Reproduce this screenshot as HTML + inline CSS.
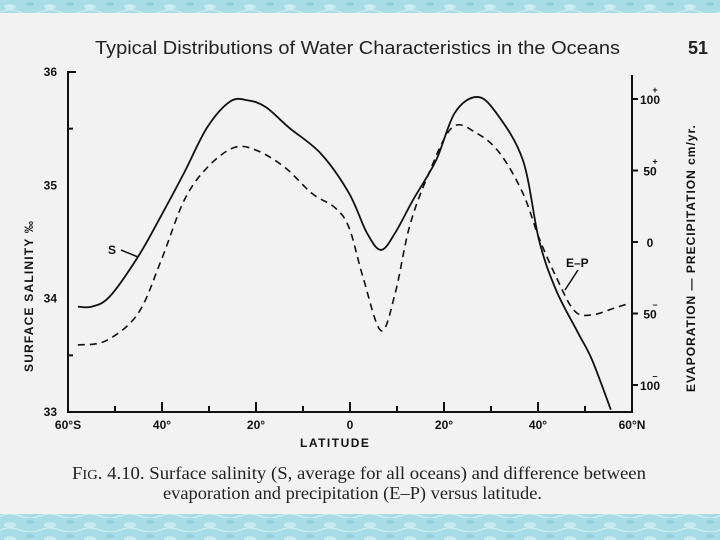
<!DOCTYPE html>
<html><head><meta charset="utf-8"><style>
html,body{margin:0;padding:0;width:720px;height:540px;overflow:hidden;background:#f3f2f2;}
svg{display:block;}
</style></head><body>
<svg id="c" width="720" height="540" xmlns="http://www.w3.org/2000/svg" font-family="Liberation Sans, sans-serif">
<defs>
<pattern id="wv" width="40" height="14" patternUnits="userSpaceOnUse">
<rect width="40" height="14" fill="#a9dde6"/>
<ellipse cx="10" cy="7" rx="6" ry="3" fill="#c6ebf0"/>
<ellipse cx="30" cy="4" rx="4" ry="2" fill="#8fd0dc"/>
<path d="M0 12 Q10 8 20 12 T40 12" stroke="#d6f2f5" fill="none"/>
</pattern>
</defs>
<rect x="0" y="0" width="720" height="13" fill="url(#wv)"/>
<rect x="0" y="514" width="720" height="26" fill="url(#wv)"/>
<text x="95" y="54" font-size="18" textLength="525" lengthAdjust="spacingAndGlyphs" fill="#222">Typical Distributions of Water Characteristics in the Oceans</text>
<text x="688" y="54" font-size="18" font-weight="bold" fill="#222">51</text>
<g id="axes" stroke="#111" stroke-width="2" fill="none"></g>
<g id="labels" fill="#111" font-weight="bold" font-size="12"></g>
<g id="series" fill="none" stroke="#111"></g>
<text x="300" y="447" font-size="12" font-weight="bold" letter-spacing="1.5" fill="#111">LATITUDE</text>
<text transform="translate(33,372) rotate(-90)" font-size="12" font-weight="bold" letter-spacing="1.2" fill="#111">SURFACE   SALINITY  ‰</text>
<text transform="translate(695,392) rotate(-90)" font-size="12" font-weight="bold" letter-spacing="1" fill="#111">EVAPORATION — PRECIPITATION    cm/yr.</text>
<text x="108" y="254" font-size="12" font-weight="bold" fill="#111">S</text>
<path d="M121 250 L138 257" stroke="#111" stroke-width="1.5"/>
<text x="566" y="267" font-size="12" font-weight="bold" fill="#111">E–P</text>
<path d="M578 270 L565 290" stroke="#111" stroke-width="1.5"/>
<text x="72" y="479" font-family="Liberation Serif, serif" font-size="18" textLength="574" lengthAdjust="spacingAndGlyphs" fill="#222">F<tspan font-size="14">IG</tspan>. 4.10.   Surface salinity (S, average for all oceans) and difference between</text>
<text x="163" y="499" font-family="Liberation Serif, serif" font-size="18" textLength="379" lengthAdjust="spacingAndGlyphs" fill="#222">evaporation and precipitation (E–P) versus latitude.</text>
</svg>
<script>
const latS=[-57.9,-54.9,-51.1,-45.1,-40.2,-35.3,-30.4,-25.5,-21.7,-17.9,-13.0,-6.2,-0.2,3.6,6.6,9.6,13.4,18.3,22.3,27.0,31.1,36.8,40.2,43.8,48.5,51.5,55.5];
const salinity=[33.93,33.93,34.02,34.37,34.73,35.11,35.51,35.74,35.75,35.69,35.51,35.28,34.93,34.58,34.43,34.58,34.87,35.22,35.64,35.78,35.64,35.22,34.52,34.08,33.70,33.46,33.02];
const latEP=[-57.9,-51.9,-45.1,-40.2,-35.3,-30.4,-24.7,-19.8,-13.8,-8.1,-3.2,-0.2,2.8,6.6,9.6,12.6,16.4,21.7,27.0,31.9,36.8,40.2,43.8,47.7,51.5,56.4,59.4];
const evapPrecip=[-72,-69,-50,-13,29,52,66,64,52,34,24,10,-25,-62,-36,10,45,80,76,62,34,3,-24,-48,-51,-46,-43];
const xTickLabels=["60°S","40°","20°","0","20°","40°","60°N"];
const xTickValues=[-60,-40,-20,0,20,40,60];
const leftTicks=[33,34,35,36];
const rightTicks=[100,50,0,-50,-100];
const rightTickLabels=["100","50","0","50","100"];

const X0=68,X1=632;
const x=v=>X0+(v+60)/120*(X1-X0);
const yS=v=>412-(v-33)/3*340;
const yE=v=>242-v*1.43;
const NS="http://www.w3.org/2000/svg";
const mk=(t,a,p)=>{const e=document.createElementNS(NS,t);for(const k in a)e.setAttribute(k,a[k]);p.appendChild(e);return e;};
const axes=document.getElementById('axes'),lab=document.getElementById('labels'),ser=document.getElementById('series');

let e=mk('path',{d:`M${X0+8} 72 L${X0} 72 L${X0} 412 L${X1} 412 L${X1} 75`},axes);


for(let v=-60;v<=60;v+=10){
  const t=mk('line',{x1:x(v),x2:x(v),y1:412,y2:v%20===0?402:406},axes);
  
  
}
xTickValues.forEach((v,i)=>{
  const t=mk('text',{x:x(v),y:429,'text-anchor':'middle'},lab);t.textContent=xTickLabels[i];
  
  
});
leftTicks.forEach(v=>{
  const t=mk('text',{x:57,y:yS(v)+4,'text-anchor':'end'},lab);t.textContent=v;
  
  
});
[33.5,35.5].forEach(v=>{
  const t=mk('line',{x1:X0,x2:X0+5,y1:yS(v),y2:yS(v)},axes);
  
  
});
rightTicks.forEach((v,i)=>{
  const t=mk('line',{x1:X1,x2:X1+6,y1:yE(v),y2:yE(v)},axes);
  
  
  const l=mk('text',{x:650,y:yE(v)+5,'text-anchor':'middle'},lab);l.textContent=rightTickLabels[i];
  
  
  if(v!==0){const s=mk('text',{x:655,y:yE(v)-6,'font-size':'9','text-anchor':'middle'},lab);s.textContent=v>0?'+':'–';
  
  }
});
function smooth(pts){
  let d=`M${pts[0][0]} ${pts[0][1]}`;
  for(let i=0;i<pts.length-1;i++){
    const p0=pts[i-1]||pts[i],p1=pts[i],p2=pts[i+1],p3=pts[i+2]||p2;
    d+=` C${p1[0]+(p2[0]-p0[0])/6} ${p1[1]+(p2[1]-p0[1])/6} ${p2[0]-(p3[0]-p1[0])/6} ${p2[1]-(p3[1]-p1[1])/6} ${p2[0]} ${p2[1]}`;
  }
  return d;
}
let s=mk('path',{d:smooth(latS.map((v,i)=>[x(v),yS(salinity[i])])),'stroke-width':'1.8'},ser);


let p=mk('path',{d:smooth(latEP.map((v,i)=>[x(v),yE(evapPrecip[i])])),'stroke-width':'1.6','stroke-dasharray':'7 5'},ser);


</script>
</body></html>
